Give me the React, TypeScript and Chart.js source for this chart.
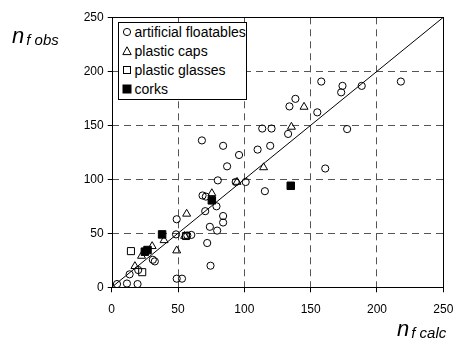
import React, { useEffect, useRef } from "react";
import { Chart, registerables } from "chart.js";

Chart.register(...registerables);

// artificial floatables (open circles)
const floatX = [4, 11.5, 19.5, 13.5, 20, 31, 32.5, 49, 53, 48.5, 49, 57, 60, 72, 74.5, 74, 79.5, 84, 84, 70.5, 79, 68.5, 71, 80, 93.5, 101, 87, 96, 110, 119.5, 68, 84, 113.5, 120.5, 133, 134, 138.5, 155, 158, 173, 174, 188.5, 218, 177.5, 161, 115.5];
const floatY = [3, 3.5, 3, 12, 16, 25.5, 24, 8, 8, 49, 63, 48, 48.5, 41, 20, 56, 52.5, 60, 66, 70.5, 75, 85, 84, 99, 97.5, 97.5, 112, 122.5, 127.5, 131, 136, 131, 147, 147, 142, 167.5, 174.5, 162, 190.5, 180.5, 186.5, 186.5, 190.5, 146.5, 110, 89];

// plastic caps (open triangles)
const capsX = [17.5, 22.5, 30.5, 39.5, 49, 55, 56.5, 75.5, 94.5, 114.5, 135.5, 145];
const capsY = [19.5, 29, 38, 43.5, 34, 47.5, 68, 87, 97.5, 111, 148.5, 167];

// plastic glasses (open squares)
const glassX = [14.5, 23, 56];
const glassY = [33.5, 14, 47.5];

// corks (filled squares)
const corkX = [25, 27, 38, 75.5, 135];
const corkY = [33, 34.5, 49, 80.5, 94];

// 1:1 line
const lineX = [0, 250];
const lineY = [0, 250];

const axisMin = 0;
const axisMax = 250;
const axisStep = 50;

const legendLabels = ["artificial floatables", "plastic caps", "plastic glasses", "corks"];

const FONT = "'Liberation Sans', Arial, Helvetica, sans-serif";

const toPts = (xs: number[], ys: number[]) => xs.map((x, i) => ({ x, y: ys[i] }));

function Marker({ kind }: { kind: number }) {
  return (
    <svg width={10} height={10} style={{ display: "block" }}>
      {kind === 0 && <circle cx={5} cy={5} r={3.6} fill="none" stroke="#000" strokeWidth={1} />}
      {kind === 1 && <polygon points="5,0.8 9.2,8.6 0.8,8.6" fill="none" stroke="#000" strokeWidth={1} />}
      {kind === 2 && <rect x={1.5} y={1.5} width={7} height={7} fill="none" stroke="#000" strokeWidth={1} />}
      {kind === 3 && <rect x={1} y={1} width={8} height={8} fill="#000" stroke="#000" strokeWidth={1} />}
    </svg>
  );
}

export default function App() {
  const ref = useRef<HTMLCanvasElement>(null);

  useEffect(() => {
    if (!ref.current) return;
    const boxPlugin = {
      id: "plotBox",
      afterDraw(chart: any) {
        const { ctx, chartArea } = chart;
        ctx.save();
        ctx.strokeStyle = "#000";
        ctx.lineWidth = 1;
        ctx.setLineDash([]);
        ctx.strokeRect(
          Math.round(chartArea.left) + 0.5,
          Math.round(chartArea.top) + 0.5,
          Math.round(chartArea.right) - Math.round(chartArea.left),
          Math.round(chartArea.bottom) - Math.round(chartArea.top)
        );
        ctx.restore();
      },
    };
    const gridColor = (c: any) =>
      c.tick && (c.tick.value === axisMin || c.tick.value === axisMax) ? "rgba(0,0,0,0)" : "#555";

    const chart = new Chart(ref.current, {
      type: "scatter",
      data: {
        datasets: [
          {
            label: "1:1",
            data: toPts(lineX, lineY),
            showLine: true,
            borderColor: "#000",
            borderWidth: 1,
            pointRadius: 0,
          } as any,
          {
            label: legendLabels[0],
            data: toPts(floatX, floatY),
            pointStyle: "circle",
            pointRadius: 3.6,
            borderColor: "#000",
            borderWidth: 1,
            backgroundColor: "rgba(255,255,255,0)",
          },
          {
            label: legendLabels[1],
            data: toPts(capsX, capsY),
            pointStyle: "triangle",
            pointRadius: 4.6,
            borderColor: "#000",
            borderWidth: 1,
            backgroundColor: "rgba(255,255,255,0)",
          },
          {
            label: legendLabels[2],
            data: toPts(glassX, glassY),
            pointStyle: "rect",
            pointRadius: 5,
            borderColor: "#000",
            borderWidth: 1,
            backgroundColor: "rgba(255,255,255,0)",
          },
          {
            label: legendLabels[3],
            data: toPts(corkX, corkY),
            pointStyle: "rect",
            pointRadius: 5.3,
            borderColor: "#000",
            borderWidth: 1,
            backgroundColor: "#000",
          },
        ],
      },
      options: {
        animation: false,
        responsive: false,
        devicePixelRatio: 1,
        layout: { padding: { top: 17.3, right: 36.7, left: 0, bottom: 0 } },
        plugins: { legend: { display: false }, tooltip: { enabled: false } },
        font: { family: FONT },
        scales: {
          x: {
            type: "linear",
            min: axisMin,
            max: axisMax,
            afterFit: (s: any) => {
              s.height = 52.7;
            },
            ticks: { stepSize: axisStep, color: "#000", font: { size: 12, family: FONT }, padding: 10 },
            grid: { color: gridColor, tickColor: "#000", tickLength: 5, lineWidth: 1 },
            border: { display: false, dash: [7, 5] },
          },
          y: {
            type: "linear",
            min: axisMin,
            max: axisMax,
            afterFit: (s: any) => {
              s.width = 111.7;
            },
            ticks: { stepSize: axisStep, color: "#000", font: { size: 12, family: FONT }, padding: 4 },
            grid: { color: gridColor, tickColor: "#000", tickLength: 4, lineWidth: 1 },
            border: { display: false, dash: [7, 5] },
          },
        },
      } as any,
      plugins: [boxPlugin],
    });
    return () => chart.destroy();
  }, []);

  const legendRows = [32.3, 51.2, 70, 88.7];

  return (
    <div
      style={{
        position: "absolute",
        left: 0,
        top: 0,
        width: 453,
        height: 340,
        overflow: "hidden",
        background: "#fff",
        fontFamily: FONT,
      }}
    >
      <canvas ref={ref} width={480} height={340} style={{ position: "absolute", left: 0, top: 0, width: 480, height: 340 }} />
      {/* legend */}
      <div
        style={{
          position: "absolute",
          left: 118,
          top: 21.5,
          width: 129,
          height: 78,
          border: "1px solid #000",
          background: "#fff",
          boxSizing: "border-box",
        }}
      />
      {legendLabels.map((lab, i) => (
        <React.Fragment key={lab}>
          <div style={{ position: "absolute", left: 122, top: legendRows[i] - 5 }}>
            <Marker kind={i} />
          </div>
          <div
            style={{
              position: "absolute",
              left: 134.5,
              top: legendRows[i] - 8,
              fontSize: 14,
              lineHeight: "16px",
              whiteSpace: "nowrap",
              color: "#000",
            }}
          >
            {lab}
          </div>
        </React.Fragment>
      ))}
      {/* y title */}
      <div style={{ position: "absolute", left: 12, top: 25, whiteSpace: "nowrap", fontStyle: "italic", color: "#000", lineHeight: 1 }}>
        <span style={{ fontSize: 22 }}>n</span>
        <span style={{ fontSize: 15, marginLeft: 2, position: "relative", top: 2 }}>f obs</span>
      </div>
      {/* x title */}
      <div style={{ position: "absolute", left: 397, top: 318, whiteSpace: "nowrap", fontStyle: "italic", color: "#000", lineHeight: 1 }}>
        <span style={{ fontSize: 22 }}>n</span>
        <span style={{ fontSize: 15, marginLeft: 2, position: "relative", top: 2 }}>f calc</span>
      </div>
    </div>
  );
}
